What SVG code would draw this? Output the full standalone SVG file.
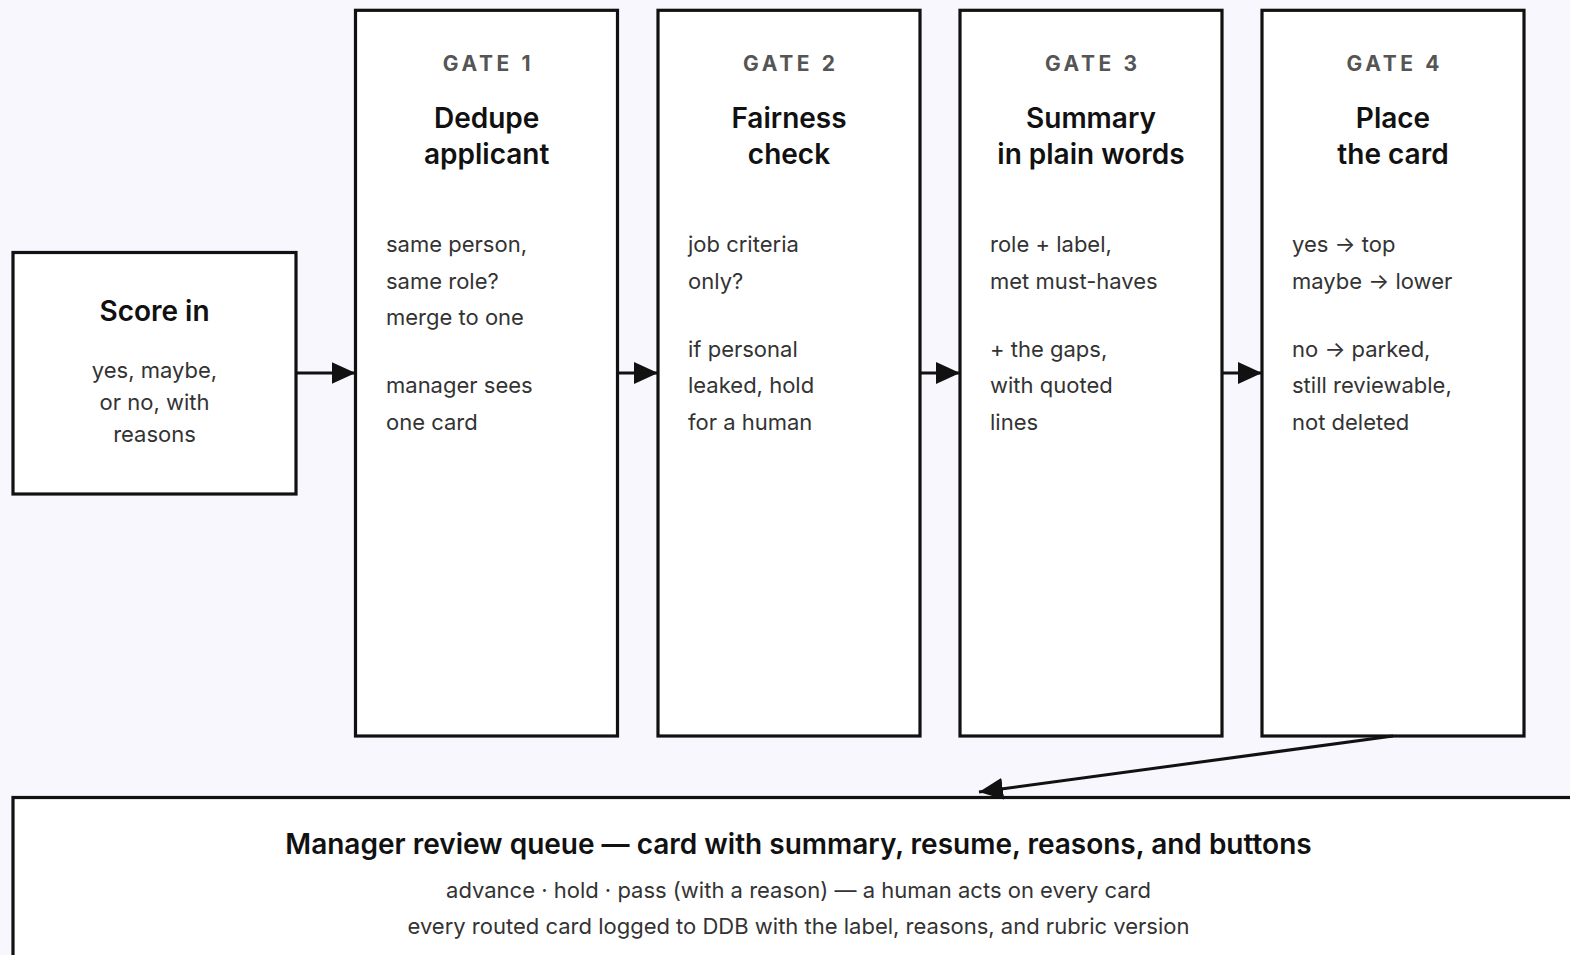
<svg xmlns="http://www.w3.org/2000/svg" width="1570" height="955" viewBox="0 0 1570 955">
<style>
.box{fill:#fff;stroke:#111;stroke-width:3.2}
.lbl{font-family:Inter,"Noto Sans","Liberation Sans",sans-serif;font-size:21px;font-weight:700;fill:#555;letter-spacing:3.6px;text-anchor:middle}
.ttl{font-family:Inter,"Noto Sans","Liberation Sans",sans-serif;font-size:28px;font-weight:600;fill:#111;text-anchor:middle}
.body{font-family:Inter,"Noto Sans","Liberation Sans",sans-serif;font-size:22px;font-weight:400;fill:#333}
.ctr{text-anchor:middle}
.conn{fill:none;stroke:#111;stroke-width:3}
</style>
<defs>
<marker id="ah" viewBox="0 0 24 22" refX="24" refY="11" markerWidth="24" markerHeight="22" orient="auto" markerUnits="userSpaceOnUse"><path d="M0,0 L24,11 L0,22 z" fill="#111"/></marker>
</defs>
<rect x="0" y="0" width="1570" height="955" fill="#f8f7fe"/>

<g id="score-in">
<rect class="box" x="13" y="252.5" width="283" height="241.5"/>
<text class="ttl" x="154.5" y="321">Score in</text>
<text class="body ctr" x="154.5" y="378">yes, maybe,</text>
<text class="body ctr" x="154.5" y="410">or no, with</text>
<text class="body ctr" x="154.5" y="442">reasons</text>
</g>

<g id="gate-1">
<rect class="box" x="355.5" y="10.3" width="262" height="725.7"/>
<text class="lbl" x="488.5" y="70.5">GATE 1</text>
<text class="ttl" x="486.7" y="127.5">Dedupe</text>
<text class="ttl" x="486.7" y="163.5">applicant</text>
<text class="body" x="386" y="252">same person,</text>
<text class="body" x="386" y="289">same role?</text>
<text class="body" x="386" y="325">merge to one</text>
<text class="body" x="386" y="393">manager sees</text>
<text class="body" x="386" y="430">one card</text>
</g>

<g id="gate-2">
<rect class="box" x="658" y="10.3" width="262" height="725.7"/>
<text class="lbl" x="790.8" y="70.5">GATE 2</text>
<text class="ttl" x="789" y="127.5">Fairness</text>
<text class="ttl" x="789" y="163.5">check</text>
<text class="body" x="688" y="252">job criteria</text>
<text class="body" x="688" y="289">only?</text>
<text class="body" x="688" y="357">if personal</text>
<text class="body" x="688" y="393">leaked, hold</text>
<text class="body" x="688" y="430">for a human</text>
</g>

<g id="gate-3">
<rect class="box" x="960" y="10.3" width="262" height="725.7"/>
<text class="lbl" x="1092.8" y="70.5">GATE 3</text>
<text class="ttl" x="1091" y="127.5">Summary</text>
<text class="ttl" x="1091" y="163.5">in plain words</text>
<text class="body" x="990" y="252">role + label,</text>
<text class="body" x="990" y="289">met must-haves</text>
<text class="body" x="990" y="357">+ the gaps,</text>
<text class="body" x="990" y="393">with quoted</text>
<text class="body" x="990" y="430">lines</text>
</g>

<g id="gate-4">
<rect class="box" x="1262" y="10.3" width="262" height="725.7"/>
<text class="lbl" x="1394.8" y="70.5">GATE 4</text>
<text class="ttl" x="1393" y="127.5">Place</text>
<text class="ttl" x="1393" y="163.5">the card</text>
<text class="body" x="1292" y="252">yes → top</text>
<text class="body" x="1292" y="289">maybe → lower</text>
<text class="body" x="1292" y="357">no → parked,</text>
<text class="body" x="1292" y="393">still reviewable,</text>
<text class="body" x="1292" y="430">not deleted</text>
</g>

<g id="review-queue">
<rect class="box" x="13" y="797.5" width="1572" height="180"/>
<text class="ttl" x="798.5" y="853.5">Manager review queue — card with summary, resume, reasons, and buttons</text>
<text class="body ctr" x="798.5" y="897.5">advance · hold · pass (with a reason) — a human acts on every card</text>
<text class="body ctr" x="798.5" y="933.5">every routed card logged to DDB with the label, reasons, and rubric version</text>
</g>

<g id="connectors">
<path class="conn" d="M296,373 L355.5,373" marker-end="url(#ah)"/>
<path class="conn" d="M617.5,373 L658,373" marker-end="url(#ah)"/>
<path class="conn" d="M920,373 L960,373" marker-end="url(#ah)"/>
<path class="conn" d="M1222,373 L1262,373" marker-end="url(#ah)"/>
<path class="conn" d="M1393,736 L979,792" marker-end="url(#ah)"/>
</g>
</svg>
